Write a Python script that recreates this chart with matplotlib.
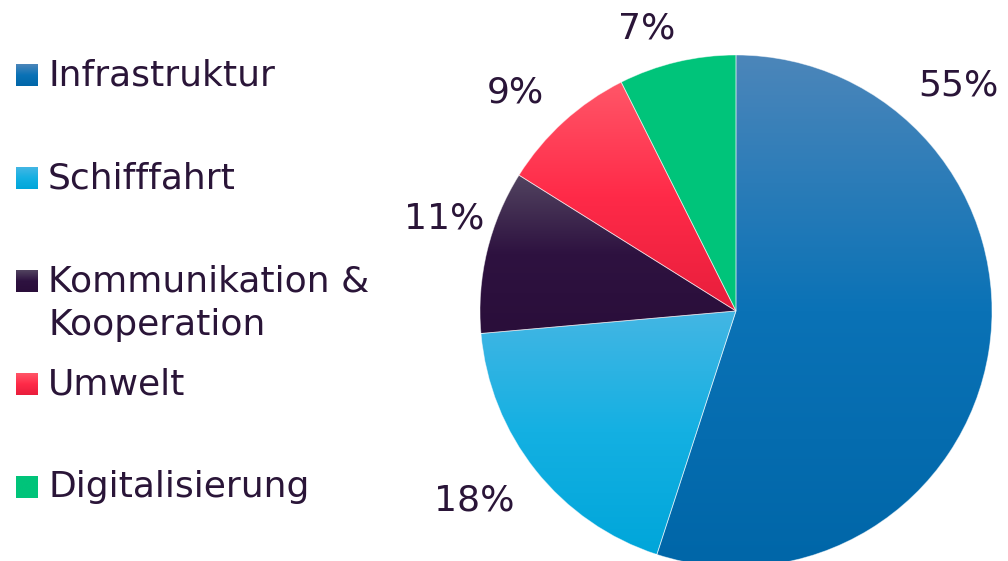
import numpy as np
import matplotlib
matplotlib.use("Agg")
import matplotlib.pyplot as plt
from matplotlib.colors import LinearSegmentedColormap
from matplotlib.patches import Rectangle

# Data (slice sizes, labels as printed)
categories = ["Infrastruktur", "Schifffahrt", "Kommunikation &\nKooperation", "Umwelt", "Digitalisierung"]
shares = [55.0, 18.6, 10.3, 8.7, 7.4]
pct_labels = ["55%", "18%", "11%", "9%", "7%"]
# gradient colours per slice (top -> bottom)
grad_colors = [
    ["#4c86ba", "#0a72b6", "#0066a8"],
    ["#44b6e4", "#14b0e2", "#00a6da"],
    ["#524460", "#2e1240", "#2a0e3a"],
    ["#ff5668", "#ff2a48", "#e81e3c"],
    ["#00c47a", "#00c47a", "#00c47a"],
]
TEXT_COLOR = "#2a1538"

W, H = 1008, 561
fig = plt.figure(figsize=(W / 100, H / 100), dpi=100)

# Pie axes (center ~ (736, 311) px, radius ~256 px)
cx, cy, r = 736, 311, 256
ax = fig.add_axes([(cx - r) / W, (H - cy - r) / H, 2 * r / W, 2 * r / H])
wedges, _ = ax.pie(shares, startangle=90, counterclock=False, radius=1,
                   wedgeprops=dict(linewidth=0))

grad = np.linspace(1, 0, 256).reshape(-1, 1)
for w, cols in zip(wedges, grad_colors):
    th = np.radians(np.linspace(w.theta1, w.theta2, 100))
    ys = np.concatenate([np.sin(th), [0]])
    cmap = LinearSegmentedColormap.from_list("g", cols[::-1])
    w.set_facecolor("none")
    im = ax.imshow(grad, cmap=cmap, extent=[-1, 1, ys.min(), ys.max()], aspect="auto",
                   origin="upper", zorder=1, vmin=0, vmax=1)
    im.set_clip_path(w)
    w.set_edgecolor((1, 1, 1, 0.5))
    w.set_linewidth(0.6)
    w.set_zorder(2)
ax.set_xlim(-1, 1)
ax.set_ylim(-1, 1)
ax.set_aspect("equal")
ax.axis("off")

# Overlay axes in pixel coordinates for labels and legend
ov = fig.add_axes([0, 0, 1, 1])
ov.axis("off")
ov.patch.set_alpha(0)

label_pos = [(958, 85), (474, 500), (444, 218), (515, 92), (647, 28)]
for txt, (x, y) in zip(pct_labels, label_pos):
    ov.text(x, y, txt, fontsize=26, color=TEXT_COLOR, ha="center", va="center")

legend_y = [75, 178, 281, 384, 487]
for name, cols, y in zip(categories, grad_colors, legend_y):
    sq = Rectangle((16, y - 11), 22, 22, facecolor="none", linewidth=0)
    ov.add_patch(sq)
    cmap = LinearSegmentedColormap.from_list("g", cols[::-1])
    im = ov.imshow(grad, cmap=cmap, extent=[16, 38, y + 11, y - 11], aspect="auto",
                   origin="upper", vmin=0, vmax=1)
    im.set_clip_path(sq)
    for i, line in enumerate(name.split("\n")):
        ov.text(48, y + 44 * i, line, fontsize=26, color=TEXT_COLOR,
                ha="left", va="center")
ov.set_xlim(0, W)
ov.set_ylim(H, 0)

fig.savefig("out.png", dpi=100)
